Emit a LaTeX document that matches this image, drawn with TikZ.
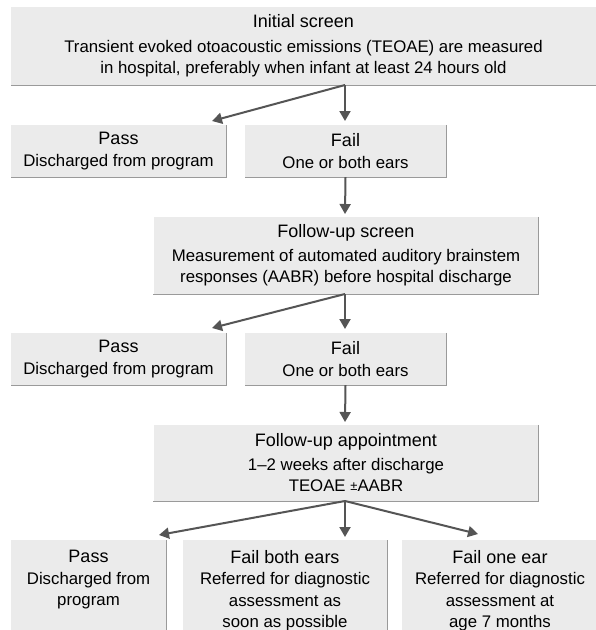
\documentclass[tikz,border=0pt]{standalone}
\usepackage{fontspec}
\setmainfont{Liberation Sans}
\usetikzlibrary{arrows.meta}
\definecolor{boxfill}{HTML}{EBEBEB}
\definecolor{shade}{HTML}{9A9A9A}
\definecolor{arrowc}{HTML}{555555}
\newcommand{\ttl}[1]{{\fontsize{18}{22}\selectfont #1}}
\begin{document}
\begin{tikzpicture}[x=1pt,y=-1pt,
  box/.style={fill=boxfill, inner sep=0pt, align=center, font=\fontsize{16.8}{21.5}\selectfont},
  txt/.style={inner sep=0pt, align=center, font=\fontsize{16.8}{21.5}\selectfont},
  shadowline/.style={draw=shade, line width=1pt},
  arr/.style={draw=arrowc, line width=2pt, -{Triangle[length=10pt,width=11pt]}}]
\clip (0,0) rectangle (596,630);
\fill[white] (0,0) rectangle (596,630);

% Initial screen
\node[box, minimum width=585pt, minimum height=78pt] (b1) at (303.5,46)
  {\ttl{Initial screen}\\[3pt] Transient evoked otoacoustic emissions (TEOAE) are measured\\ in hospital, preferably when infant at least 24 hours old};
\draw[shadowline] (b1.south west) -- (b1.south east);

% level 1
\node[box, minimum width=215pt, minimum height=52pt] (p1) at (118.5,151)
  {\ttl{Pass}\\ Discharged from program};
\node[box, minimum width=201pt, minimum height=52pt] (f1) at (345.5,151)
  {\ttl{Fail}\\ One or both ears};
\draw[shadowline] (p1.north east) -- (p1.south east) -- (p1.south west);
\draw[shadowline] (f1.north east) -- (f1.south east) -- (f1.south west);

% Follow-up screen
\node[box, minimum width=385pt, minimum height=77pt] (s2) at (346,255.5)
  {\ttl{Follow-up screen}\\[2pt] Measurement of automated auditory brainstem\\ responses (AABR) before hospital discharge};
\draw[shadowline] (s2.north east) -- (s2.south east) -- (s2.south west);

% level 2
\node[box, minimum width=215pt, minimum height=52pt] (p2) at (118.5,359)
  {\ttl{Pass}\\ Discharged from program};
\node[box, minimum width=201pt, minimum height=52pt] (f2) at (345.5,359)
  {\ttl{Fail}\\ One or both ears};
\draw[shadowline] (p2.north east) -- (p2.south east) -- (p2.south west);
\draw[shadowline] (f2.north east) -- (f2.south east) -- (f2.south west);

% Follow-up appointment
\node[box, minimum width=385pt, minimum height=76pt] (a3) at (346,463)
  {\ttl{Follow-up appointment}\\[2pt] 1--2 weeks after discharge\\ TEOAE {\fontsize{13}{15}\selectfont\raisebox{1.5pt}{±}}AABR};
\draw[shadowline] (a3.north east) -- (a3.south east) -- (a3.south west);

% bottom level
\node[box, minimum width=155pt, minimum height=100pt, anchor=north] (p3) at (88.5,540) {};
\node[box, minimum width=204pt, minimum height=100pt, anchor=north] (f3) at (285,540) {};
\node[box, minimum width=196pt, minimum height=100pt, anchor=north] (f4) at (500,540) {};
\draw[shadowline] (p3.north east) -- (p3.south east);
\draw[shadowline] (f3.north east) -- (f3.south east);
\node[txt, anchor=north] (p3t) at ([yshift=-10pt]p3.north)
  {\ttl{Pass}\\ Discharged from\\ program};
\node[txt, anchor=north] (f3t) at ([yshift=-10pt]f3.north)
  {\ttl{Fail both ears}\\ Referred for diagnostic\\ assessment as\\ soon as possible};
\node[txt, anchor=north] (f4t) at ([yshift=-10pt]f4.north)
  {\ttl{Fail one ear}\\ Referred for diagnostic\\ assessment at\\ age 7 months};

% connectors
\coordinate (o1) at (345,85);
\coordinate (t1a) at (212,121);
\coordinate (t1b) at (345,121);
\draw[arr] (o1) -- (t1a);
\draw[arr] (o1) -- (t1b);
\coordinate (t2) at (345,214);
\draw[arr] (f1.south) -- (t2);
\coordinate (o2) at (345,294);
\coordinate (t3a) at (212,328);
\coordinate (t3b) at (345,329);
\draw[arr] (o2) -- (t3a);
\draw[arr] (o2) -- (t3b);
\coordinate (t4) at (345,422);
\draw[arr] (f2.south) -- (t4);
\coordinate (o3) at (345,501);
\coordinate (t5a) at (159,535);
\coordinate (t5b) at (345,537);
\coordinate (t5c) at (478,534);
\draw[arr] (o3) -- (t5a);
\draw[arr] (o3) -- (t5b);
\draw[arr] (o3) -- (t5c);
\end{tikzpicture}
\end{document}
